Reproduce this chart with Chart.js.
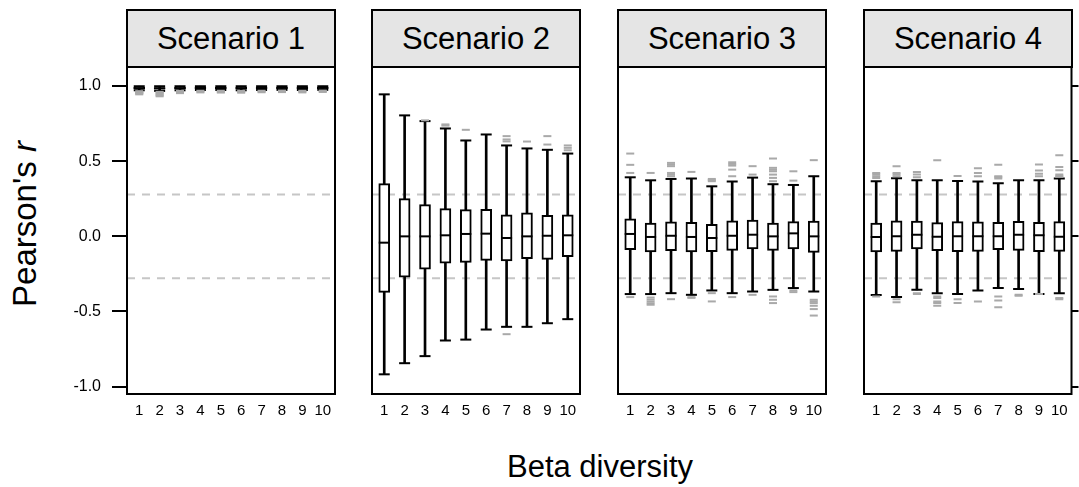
<!DOCTYPE html>
<html>
<head>
<meta charset="utf-8">
<script src="https://cdn.jsdelivr.net/npm/chart.js@4.4.1/dist/chart.umd.min.js"></script>
<style>
  body { margin: 0; background: #fff; width: 1079px; height: 487px; overflow: hidden; position: relative;
         font-family: "Liberation Sans", Arial, sans-serif; color: #000; }
  canvas { position: absolute; }
  .strip { position: absolute; top: 9px; height: 59px; box-sizing: border-box; border: 2px solid #000;
           background: #e5e5e5; font-size: 31px; display: flex; align-items: center; justify-content: center; }
  .title { position: absolute; font-size: 31px; line-height: 1; white-space: nowrap; transform: translate(-50%, -50%); }
</style>
</head>
<body>
<div class="title" style="left:600px; top:466px;">Beta diversity</div>
<div class="title" style="left:24px; top:224px; font-size:33px; transform: translate(-50%, -50%) rotate(-90deg);">Pearson's <i>r</i></div>
<script>
// categories and axis ticks
const betaLevels = [1, 2, 3, 4, 5, 6, 7, 8, 9, 10];
const yTicks = [-1, -0.5, 0, 0.5, 1];
const scenarios = ["Scenario 1", "Scenario 2", "Scenario 3", "Scenario 4"];
const refR = 0.278; // dashed significance lines at +/- r

// Scenario 1
const s1Lower  = [0.972, 0.968, 0.972, 0.974, 0.974, 0.972, 0.974, 0.975, 0.974, 0.975];
const s1Q1     = [0.981, 0.980, 0.981, 0.982, 0.982, 0.981, 0.982, 0.983, 0.982, 0.983];
const s1Median = [0.986, 0.985, 0.986, 0.987, 0.987, 0.986, 0.987, 0.988, 0.987, 0.988];
const s1Q3     = [0.991, 0.990, 0.991, 0.992, 0.992, 0.991, 0.992, 0.992, 0.992, 0.992];
const s1Upper  = [0.999, 0.999, 0.999, 0.999, 0.999, 0.999, 0.999, 0.999, 0.999, 0.999];
const s1Out = [
  [0.966, 0.962, 0.958, 0.954, 0.950, 0.945], [0.962, 0.956, 0.950, 0.944, 0.938, 0.932],
  [0.968, 0.963, 0.958, 0.953], [0.969, 0.964, 0.958], [0.969, 0.963, 0.957],
  [0.968, 0.962, 0.956], [0.969, 0.964, 0.959], [0.970, 0.965, 0.960],
  [0.969, 0.964, 0.958], [0.970, 0.965, 0.961]
];

// Scenario 2
const s2Lower  = [-0.918, -0.844, -0.797, -0.693, -0.687, -0.620, -0.602, -0.602, -0.578, -0.551];
const s2Q1     = [-0.373, -0.271, -0.218, -0.178, -0.173, -0.160, -0.164, -0.149, -0.153, -0.135];
const s2Median = [-0.042, 0.000, 0.000, 0.007, 0.016, 0.018, -0.011, 0.000, 0.004, 0.007];
const s2Q3     = [0.351, 0.251, 0.211, 0.185, 0.178, 0.180, 0.143, 0.156, 0.140, 0.144];
const s2Upper  = [0.945, 0.805, 0.767, 0.718, 0.638, 0.678, 0.605, 0.585, 0.576, 0.551];
const s2Out = [
  [], [], [0.772], [0.745, 0.737], [0.709], [],
  [0.667, 0.645, 0.632, -0.651], [0.631], [0.667, 0.611], [0.605, 0.589, 0.573]
];

// Scenario 3
const s3Lower  = [-0.384, -0.384, -0.378, -0.389, -0.360, -0.378, -0.367, -0.356, -0.344, -0.367];
const s3Q1     = [-0.089, -0.104, -0.096, -0.104, -0.102, -0.093, -0.084, -0.093, -0.084, -0.107];
const s3Median = [0.016, -0.004, 0.004, -0.004, -0.011, 0.004, 0.011, 0.000, 0.020, 0.000];
const s3Q3     = [0.116, 0.089, 0.096, 0.093, 0.080, 0.104, 0.109, 0.089, 0.098, 0.102];
const s3Upper  = [0.393, 0.373, 0.382, 0.385, 0.333, 0.365, 0.391, 0.347, 0.342, 0.400];
const s3Out = [
  [0.551, 0.476, 0.422, -0.404],
  [0.422, -0.407, -0.420, -0.433, -0.445, -0.455],
  [0.489, 0.478, 0.467, 0.422, 0.411, 0.400, -0.418],
  [0.429, -0.405, -0.409],
  [0.382, 0.374, 0.367, -0.378, -0.433],
  [0.493, 0.482, 0.471, 0.444, 0.400, -0.404],
  [0.467, 0.411, -0.389],
  [0.518, 0.456, 0.444, 0.433, 0.411, 0.389, 0.367, -0.400, -0.422, -0.444],
  [0.433, 0.371, -0.360, -0.371],
  [0.507, -0.422, -0.433, -0.444, -0.462, -0.484, -0.527]
];

// Scenario 4
const s4Lower  = [-0.391, -0.404, -0.356, -0.378, -0.384, -0.360, -0.344, -0.351, -0.384, -0.378];
const s4Q1     = [-0.104, -0.100, -0.084, -0.096, -0.102, -0.100, -0.089, -0.093, -0.102, -0.100];
const s4Median = [-0.004, 0.000, 0.011, -0.002, 0.000, 0.000, 0.000, 0.011, 0.007, -0.002];
const s4Q3     = [0.089, 0.104, 0.102, 0.091, 0.098, 0.096, 0.093, 0.100, 0.093, 0.098];
const s4Upper  = [0.367, 0.387, 0.373, 0.373, 0.369, 0.365, 0.353, 0.373, 0.373, 0.385];
const s4Out = [
  [0.422, 0.411, 0.400, 0.389, -0.400],
  [0.467, 0.422, 0.411, 0.400, -0.418, -0.438],
  [0.429, 0.411, 0.393, -0.378, -0.384],
  [0.507, -0.400, -0.411, -0.433, -0.444, -0.462],
  [0.402, -0.418, -0.444],
  [0.453, 0.422, 0.400, -0.433],
  [0.476, 0.400, 0.393, 0.385, -0.400, -0.427, -0.471],
  [-0.389, -0.396],
  [0.478, 0.438, 0.416, 0.400, -0.384],
  [0.540, 0.462, 0.440, 0.411, 0.404, 0.396, -0.411, -0.418]
];

const panels = [
  { lower: s1Lower, q1: s1Q1, median: s1Median, q3: s1Q3, upper: s1Upper, out: s1Out },
  { lower: s2Lower, q1: s2Q1, median: s2Median, q3: s2Q3, upper: s2Upper, out: s2Out },
  { lower: s3Lower, q1: s3Q1, median: s3Median, q3: s3Q3, upper: s3Upper, out: s3Out },
  { lower: s4Lower, q1: s4Q1, median: s4Median, q3: s4Q3, upper: s4Upper, out: s4Out }
];

// layout
const panelLeft = [127, 372, 618, 864];
const panelWidth = 208;
const xMin = 0.4, xMax = 10.6, yMin = -1.049, yMax = 1.127;

Chart.defaults.font.family = '"Liberation Sans", Arial, sans-serif';
Chart.defaults.color = "#000";

const frame = {
  id: "frame",
  afterDatasetsDraw(chart) {
    const { ctx, chartArea: a } = chart;
    ctx.save();
    ctx.lineWidth = 2;
    ctx.strokeStyle = "#000";
    ctx.strokeRect(a.left, a.top, a.right - a.left, a.bottom - a.top);
    ctx.restore();
  }
};

function makePanel(k) {
  const p = panels[k];
  const first = k === 0, last = k === 3;
  const canvasLeft = first ? 0 : panelLeft[k] - 20;
  const canvasW = last ? 1079 - canvasLeft : panelLeft[k] + panelWidth + 20 - canvasLeft;

  const cv = document.createElement("canvas");
  cv.width = canvasW;
  cv.height = 410;
  cv.style.left = canvasLeft + "px";
  cv.style.top = "40px";
  document.body.appendChild(cv);

  const strip = document.createElement("div");
  strip.className = "strip";
  strip.style.left = (panelLeft[k] - 1) + "px";
  strip.style.width = (panelWidth + 2) + "px";
  strip.textContent = scenarios[k];
  document.body.appendChild(strip);

  const outPts = [];
  p.out.forEach((vals, i) => vals.forEach(v => outPts.push({ x: betaLevels[i], y: v })));

  const tickPts = (arr) => arr.map((v, i) => ({ x: betaLevels[i], y: v }));

  new Chart(cv.getContext("2d"), {
    type: "bar",
    data: {
      datasets: [
        { type: "scatter", data: outPts, order: 0, pointStyle: "line", pointRadius: 4,
          pointBorderWidth: 2, pointBorderColor: "#a9a9a9", borderColor: "#a9a9a9" },
        { type: "scatter", data: tickPts(p.upper).concat(tickPts(p.lower)), order: 1, pointStyle: "line",
          pointRadius: 5.5, pointBorderWidth: 2, pointBorderColor: "#000", borderColor: "#000" },
        { type: "scatter", data: tickPts(p.median), order: 2, pointStyle: "line",
          pointRadius: 5.5, pointBorderWidth: 2, pointBorderColor: "#000", borderColor: "#000" },
        { type: "bar", data: p.q1.map((v, i) => ({ x: betaLevels[i], y: [v, p.q3[i]] })), order: 3,
          grouped: false, barThickness: 11, backgroundColor: "#fff", borderColor: "#000",
          borderWidth: 2, borderSkipped: false },
        { type: "bar", data: p.lower.map((v, i) => ({ x: betaLevels[i], y: [v, p.upper[i]] })), order: 4,
          grouped: false, barThickness: 2, backgroundColor: "#000", borderWidth: 0 },
        { type: "line", data: [{ x: xMin, y: refR }, { x: xMax, y: refR }], order: 5,
          borderColor: "#c6c6c6", borderWidth: 2, borderDash: [8, 7], pointRadius: 0 },
        { type: "line", data: [{ x: xMin, y: -refR }, { x: xMax, y: -refR }], order: 5,
          borderColor: "#c6c6c6", borderWidth: 2, borderDash: [8, 7], pointRadius: 0 }
      ]
    },
    options: {
      responsive: false,
      animation: false,
      events: [],
      layout: { padding: { top: 27, bottom: 0, left: first ? 0 : 20, right: last ? 0 : 20 } },
      plugins: { legend: { display: false }, tooltip: { enabled: false } },
      scales: {
        x: {
          type: "linear", min: xMin, max: xMax, offset: false,
          afterBuildTicks: s => { s.ticks = betaLevels.map(v => ({ value: v })); },
          afterFit: s => { s.height = 56; },
          grid: { display: false },
          border: { display: false },
          ticks: { padding: 0, font: { size: 15 }, color: "#000", maxRotation: 0, autoSkip: false }
        },
        y: {
          type: "linear", min: yMin, max: yMax,
          display: first || last,
          position: last ? "right" : "left",
          afterBuildTicks: s => { s.ticks = yTicks.map(v => ({ value: v })); },
          afterFit: s => { s.width = first ? 127 : (last ? 7 : 0); },
          grid: { drawOnChartArea: false, drawTicks: true, tickLength: first ? 15 : 7, color: "#000", lineWidth: 2 },
          border: { display: false },
          ticks: {
            display: first, padding: 11, font: { size: 16 }, color: "#000",
            callback: v => v.toFixed(1)
          }
        }
      }
    },
    plugins: [frame]
  });
}

panels.forEach((p, k) => makePanel(k));
</script>
</body>
</html>
